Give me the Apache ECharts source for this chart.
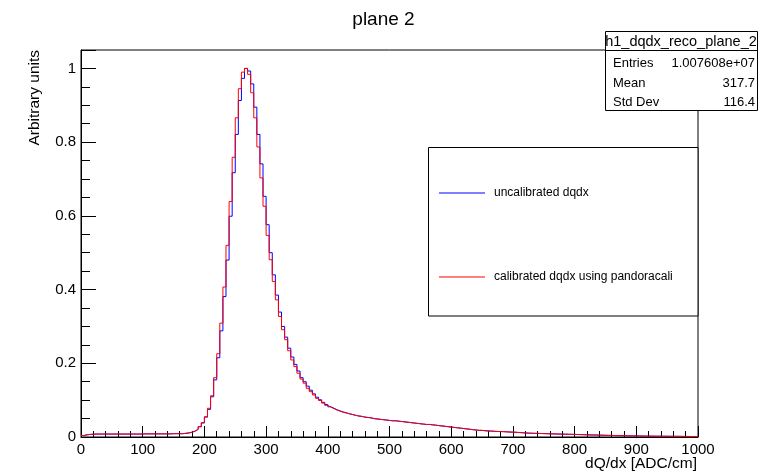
<!DOCTYPE html>
<html>
<head>
<meta charset="utf-8">
<script src="https://cdn.jsdelivr.net/npm/echarts@6/dist/echarts.min.js"></script>
<style>
html,body{margin:0;padding:0;background:#fff;}
#chart{width:767px;height:475px;}
</style>
</head>
<body>
<div id="chart"></div>
<script>
// ---- data (bin width 5, range 0..1000, 200 bins) ----
const binWidth = 5;
const xMin = 0;
const xMax = 1000;
const xTickLabels = [0, 100, 200, 300, 400, 500, 600, 700, 800, 900, 1000];
const yTickLabels = [0, 0.2, 0.4, 0.6, 0.8, 1];
const seriesNames = ['uncalibrated dqdx', 'calibrated dqdx using pandoracali'];

const uncalibrated = [
  0.004, 0.006, 0.007, 0.0075, 0.008, 0.008, 0.008, 0.008, 0.008, 0.008,
  0.008, 0.008, 0.008, 0.008, 0.008, 0.008, 0.008, 0.008, 0.008, 0.008,
  0.0085, 0.0085, 0.0085, 0.0085, 0.0085, 0.0085, 0.0085, 0.0085, 0.0085, 0.009,
  0.009, 0.009, 0.009, 0.010, 0.011, 0.013, 0.016, 0.021, 0.028, 0.038,
  0.054, 0.075, 0.109, 0.155, 0.215, 0.288, 0.381, 0.480, 0.599, 0.717,
  0.821, 0.913, 0.973, 1.000, 0.993, 0.958, 0.895, 0.821, 0.741, 0.653,
  0.576, 0.500, 0.440, 0.385, 0.339, 0.300, 0.271, 0.241, 0.217, 0.197,
  0.179, 0.161, 0.150, 0.138, 0.127, 0.117, 0.108, 0.101, 0.094, 0.088,
  0.082, 0.078, 0.074, 0.071, 0.068, 0.066, 0.063, 0.061, 0.059, 0.057,
  0.056, 0.054, 0.053, 0.052, 0.050, 0.049, 0.048, 0.047, 0.046, 0.045,
  0.044, 0.044, 0.043, 0.042, 0.041, 0.040, 0.039, 0.038, 0.037, 0.036,
  0.035, 0.034, 0.034, 0.033, 0.032, 0.031, 0.030, 0.029, 0.028, 0.027,
  0.026, 0.025, 0.024, 0.023, 0.022, 0.021, 0.020, 0.019, 0.018, 0.018,
  0.017, 0.0165, 0.016, 0.0155, 0.015, 0.0148, 0.0145, 0.014, 0.0135, 0.013,
  0.0128, 0.0122, 0.0117, 0.011, 0.0105, 0.0102, 0.010, 0.0098, 0.0095, 0.0092,
  0.009, 0.0087, 0.0085, 0.0082, 0.008, 0.0078, 0.0076, 0.0074, 0.0072, 0.007,
  0.0067, 0.0065, 0.0062, 0.006, 0.0057, 0.0055, 0.0053, 0.005, 0.0048, 0.0046,
  0.0044, 0.0042, 0.004, 0.0038, 0.0036, 0.0035, 0.0033, 0.0032, 0.003, 0.0029,
  0.0027, 0.0026, 0.0025, 0.0024, 0.0023, 0.0022, 0.0021, 0.0021, 0.002, 0.002,
  0.0019, 0.0018, 0.0018, 0.0017, 0.0016, 0.0015, 0.0014, 0.0013, 0.0012, 0.0011
];

const calibrated = [
  0.004, 0.006, 0.007, 0.0075, 0.008, 0.008, 0.008, 0.008, 0.008, 0.008,
  0.008, 0.008, 0.008, 0.008, 0.008, 0.008, 0.008, 0.008, 0.008, 0.008,
  0.0085, 0.0085, 0.0085, 0.0085, 0.0085, 0.0085, 0.0085, 0.0085, 0.0085, 0.009,
  0.009, 0.009, 0.009, 0.010, 0.011, 0.013, 0.016, 0.021, 0.028, 0.039,
  0.055, 0.078, 0.112, 0.161, 0.226, 0.309, 0.407, 0.520, 0.639, 0.759,
  0.866, 0.945, 0.990, 1.000, 0.984, 0.934, 0.866, 0.787, 0.703, 0.626,
  0.547, 0.481, 0.422, 0.372, 0.327, 0.291, 0.264, 0.234, 0.209, 0.191,
  0.173, 0.157, 0.146, 0.132, 0.123, 0.114, 0.105, 0.099, 0.092, 0.086,
  0.081, 0.077, 0.073, 0.070, 0.067, 0.065, 0.063, 0.061, 0.059, 0.057,
  0.056, 0.054, 0.053, 0.052, 0.050, 0.049, 0.048, 0.047, 0.046, 0.045,
  0.044, 0.044, 0.043, 0.042, 0.041, 0.040, 0.039, 0.038, 0.037, 0.036,
  0.035, 0.034, 0.034, 0.033, 0.032, 0.031, 0.030, 0.029, 0.028, 0.027,
  0.026, 0.025, 0.024, 0.023, 0.022, 0.021, 0.020, 0.019, 0.018, 0.018,
  0.017, 0.0165, 0.016, 0.0155, 0.015, 0.0148, 0.0145, 0.014, 0.0135, 0.013,
  0.0128, 0.0122, 0.0117, 0.011, 0.0105, 0.0102, 0.010, 0.0098, 0.0095, 0.0092,
  0.009, 0.0087, 0.0085, 0.0082, 0.008, 0.0078, 0.0076, 0.0074, 0.0072, 0.007,
  0.0067, 0.0065, 0.0062, 0.006, 0.0057, 0.0055, 0.0053, 0.005, 0.0048, 0.0046,
  0.0044, 0.0042, 0.004, 0.0038, 0.0036, 0.0035, 0.0033, 0.0032, 0.003, 0.0029,
  0.0027, 0.0026, 0.0025, 0.0024, 0.0023, 0.0022, 0.0021, 0.0021, 0.002, 0.002,
  0.0019, 0.0018, 0.0018, 0.0017, 0.0016, 0.0015, 0.0014, 0.0013, 0.0012, 0.0011
];

const statsTitle = 'h1_dqdx_reco_plane_2';
const statsLabels = ['Entries', 'Mean', 'Std Dev'];
const statsValues = ['1.007608e+07', '317.7', '116.4'];

// ---- build step data from bins ----
function toStep(vals) {
  const d = vals.map((v, i) => [xMin + i * binWidth, v]);
  d.push([xMin + vals.length * binWidth, vals[vals.length - 1]]);
  return d;
}

const FONT = 'Liberation Sans, Helvetica, Arial, sans-serif';
const chart = echarts.init(document.getElementById('chart'), null, {renderer: 'canvas'});

const G = {left: 81, right: 69, top: 50, bottom: 38};

const option = {
  animation: false,
  backgroundColor: '#fff',
  title: {
    text: 'plane 2', left: 'center', top: 5,
    textStyle: {fontFamily: FONT, fontSize: 19, fontWeight: 'normal', color: '#000'}
  },
  grid: {left: G.left, right: G.right, top: G.top, bottom: G.bottom, show: true,
         borderColor: '#000', borderWidth: 1, backgroundColor: '#fff', containLabel: false},
  legend: {
    orient: 'vertical', left: 439, top: 187, padding: 0, itemWidth: 46, itemHeight: 1, itemGap: 72,
    icon: 'rect', z: 20,
    textStyle: {fontFamily: FONT, fontSize: 12, color: '#000', padding: [0, 0, 0, 4]},
    data: seriesNames
  },
  xAxis: [{
    type: 'value', min: xMin, max: xMax, interval: 100, position: 'bottom',
    axisLine: {show: true, onZero: false, lineStyle: {color: '#000', width: 1}},
    axisTick: {show: true, inside: true, length: 11, lineStyle: {color: '#000'}},
    minorTick: {show: true, splitNumber: 5, length: 6, lineStyle: {color: '#000'}},
    splitLine: {show: false},
    axisLabel: {fontFamily: FONT, fontSize: 15, color: '#000', margin: 5,
      formatter: v => (xTickLabels.indexOf(v) >= 0 ? String(v) : '')}
  }],
  yAxis: [{
    type: 'value', min: 0, max: 1.05, interval: 0.2, position: 'left',
    axisLine: {show: true, onZero: false, lineStyle: {color: '#000', width: 1}},
    axisTick: {show: true, inside: true, length: 15, lineStyle: {color: '#000'}},
    splitLine: {show: false},
    axisLabel: {fontFamily: FONT, fontSize: 15, color: '#000', margin: 5,
      formatter: v => {
        const r = Math.round(v * 100) / 100;
        return yTickLabels.indexOf(r) >= 0 ? String(r) : '';
      }}
  }, {
    type: 'value', min: 0, max: 1.05, interval: 0.05, position: 'left', offset: 0,
    axisLine: {show: false},
    axisTick: {show: true, inside: true, length: 9, lineStyle: {color: '#000'}},
    axisLabel: {show: false},
    splitLine: {show: false}
  }],
  series: [{
    name: seriesNames[0], type: 'line', step: 'end', symbol: 'none', showSymbol: false,
    data: toStep(uncalibrated), color: '#0000ff',
    lineStyle: {color: '#0000ff', width: 1}, z: 3
  }, {
    name: seriesNames[1], type: 'line', step: 'end', symbol: 'none', showSymbol: false,
    data: toStep(calibrated), color: '#ff0000',
    lineStyle: {color: '#ff0000', width: 1}, z: 4
  }],
  graphic: [
    // y axis title
    {type: 'text', x: 35, y: 50, rotation: Math.PI / 2, z: 20,
     style: {text: 'Arbitrary units', fontFamily: FONT, fontSize: 15.5, fill: '#000',
             textAlign: 'right', textVerticalAlign: 'middle'}},
    // x axis title
    {type: 'text', x: 697, y: 464, z: 20,
     style: {text: 'dQ/dx [ADC/cm]', fontFamily: FONT, fontSize: 15.5, fill: '#000',
             textAlign: 'right', textVerticalAlign: 'middle'}},
    // legend box
    {type: 'rect', z: 5, shape: {x: 428.5, y: 147.5, width: 269.5, height: 168.5},
     style: {fill: '#fff', stroke: '#000', lineWidth: 1}},
    // stats box
    {type: 'rect', z: 30, shape: {x: 605.5, y: 31.5, width: 152, height: 79},
     style: {fill: '#fff', stroke: '#000', lineWidth: 1}},
    {type: 'line', z: 31, shape: {x1: 605.5, y1: 50.5, x2: 757.5, y2: 50.5},
     style: {stroke: '#000', lineWidth: 1}},
    {type: 'text', z: 31, x: 681, y: 41.5,
     style: {text: statsTitle, fontFamily: FONT, fontSize: 14.5, fill: '#000',
             textAlign: 'center', textVerticalAlign: 'middle'}},
    {type: 'text', z: 31, x: 613, y: 63,
     style: {text: statsLabels[0], fontFamily: FONT, fontSize: 13, fill: '#000', textVerticalAlign: 'middle'}},
    {type: 'text', z: 31, x: 613, y: 83,
     style: {text: statsLabels[1], fontFamily: FONT, fontSize: 13, fill: '#000', textVerticalAlign: 'middle'}},
    {type: 'text', z: 31, x: 613, y: 102,
     style: {text: statsLabels[2], fontFamily: FONT, fontSize: 13, fill: '#000', textVerticalAlign: 'middle'}},
    {type: 'text', z: 31, x: 755, y: 63,
     style: {text: statsValues[0], fontFamily: FONT, fontSize: 13, fill: '#000', textAlign: 'right', textVerticalAlign: 'middle'}},
    {type: 'text', z: 31, x: 755, y: 83,
     style: {text: statsValues[1], fontFamily: FONT, fontSize: 13, fill: '#000', textAlign: 'right', textVerticalAlign: 'middle'}},
    {type: 'text', z: 31, x: 755, y: 102,
     style: {text: statsValues[2], fontFamily: FONT, fontSize: 13, fill: '#000', textAlign: 'right', textVerticalAlign: 'middle'}}
  ]
};
chart.setOption(option);
</script>
</body>
</html>
